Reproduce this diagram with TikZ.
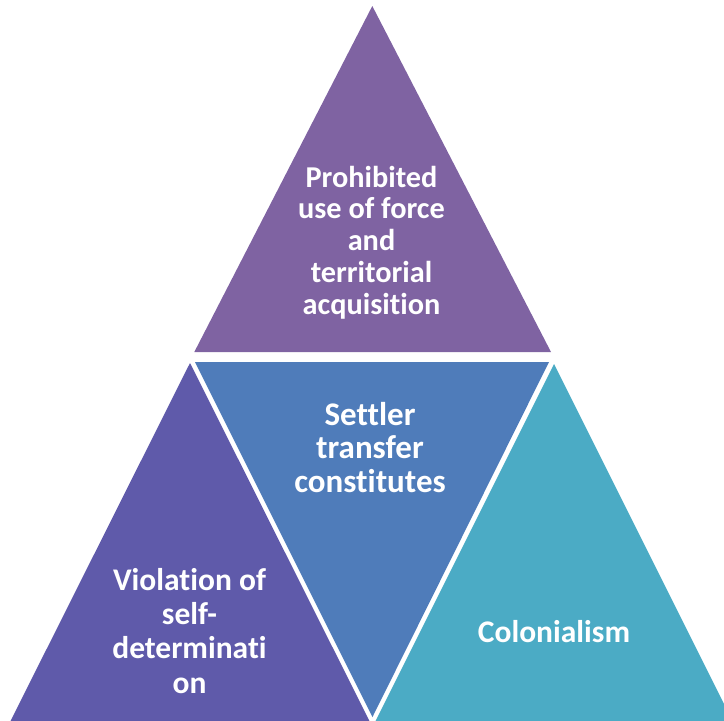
\documentclass[tikz,border=0pt]{standalone}
\usepackage{fontspec}
\setmainfont{Carlito}[Ligatures=NoCommon]
\definecolor{topviolet}{HTML}{7F63A2}
\definecolor{leftindigo}{HTML}{5F5AAA}
\definecolor{midblue}{HTML}{4F7CBA}
\definecolor{rightteal}{HTML}{4BABC5}
\tikzset{
  bigtext/.style={text=white, font=\bfseries\fontsize{31.5}{34.3}\selectfont, align=center, inner sep=0pt, anchor=base},
  toptext/.style={bigtext, font=\bfseries\fontsize{30.3}{31.7}\selectfont},
  midtext/.style={bigtext, font=\bfseries\fontsize{33}{33.5}\selectfont}
}
\begin{document}
\begin{tikzpicture}[x=1pt, y=-1pt]
  \useasboundingbox (0,0) rectangle (724,721);
  \clip (0,0) rectangle (724,721);
  % four triangular segments of the pyramid
  \fill[topviolet]  (372.3,6) -- (551,352) -- (194.3,352) -- cycle;
  \fill[midblue]    (195,362) -- (549,362) -- (372.5,717) -- cycle;
  \fill[leftindigo] (190,363) -- (379,740) -- (1,740) -- cycle;
  \fill[rightteal]  (554,364) -- (742,740) -- (366,740) -- cycle;
  % segment labels (anchored at the baseline of the last line)
  \node[toptext] (force) at (371.5,314)
    {Prohibited\\use of force\\and\\territorial\\acquisition};
  \node[midtext] (settler) at (370,492)
    {Settler\\transfer\\constitutes};
  \node[bigtext] (selfdet) at (189.5,693)
    {Violation of\\self-\\determinati\\on};
  \node[bigtext] (colonial) at (554,642) {Colonialism};
\end{tikzpicture}
\end{document}
